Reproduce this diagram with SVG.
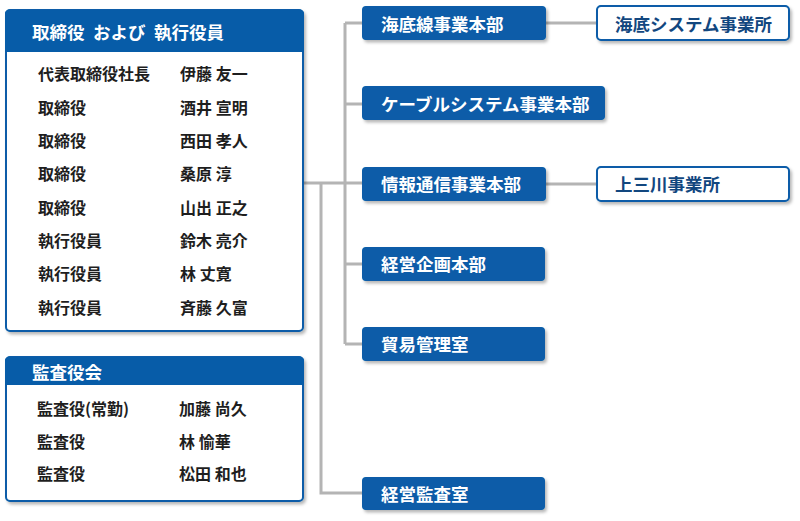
<svg xmlns="http://www.w3.org/2000/svg" width="800" height="521" viewBox="0 0 800 521">
<defs>
<filter id="sh" x="-10%" y="-10%" width="130%" height="140%">
<feDropShadow dx="2" dy="2.5" stdDeviation="1.8" flood-color="#000" flood-opacity="0.28"/>
</filter>
</defs>
<style>
.t{font-family:"Noto Sans CJK JP","Noto Sans",sans-serif;dominant-baseline:central}
.hd{fill:#fff;font-size:17.5px;font-weight:bold}
.bd{fill:#1e1e1e;font-size:16px;font-weight:bold}
.bx{fill:#fff;stroke:#075ca8;stroke-width:2}
.hdr{fill:#075ca8}
.dept{fill:#075ca8}
.dt{fill:#fff;font-size:17.5px;font-weight:bold}
.ot{fill:#12477f;font-size:17.5px;font-weight:bold}
.cn{stroke:#b4b4b4;stroke-width:3;fill:none}
</style>
<g id="connectors">
<path class="cn" d="M303 183H362M345 23V344M345 23H362M345 104H362M345 264H362M345 344H362M321 183V493H362M546 23H597M546 184H597"/>
</g>
<g id="board">
<g filter="url(#sh)">
<rect class="bx" x="6" y="10" width="297" height="321" rx="4"/>
</g>
<path class="hdr" d="M5 14a4 4 0 0 1 4-4h291a4 4 0 0 1 4 4v38H5z"/>
<text class="t hd" x="32" y="31.5">取締役</text>
<text class="t hd" x="93" y="31.5">および</text>
<text class="t hd" x="154" y="31.5">執行役員</text>
<g class="t bd">
<text x="38" y="73">代表取締役社長</text><text x="180" y="73">伊藤 友一</text>
<text x="38" y="106.5">取締役</text><text x="180" y="106.5">酒井 宣明</text>
<text x="38" y="140">取締役</text><text x="180" y="140">西田 孝人</text>
<text x="38" y="173">取締役</text><text x="180" y="173">桑原 淳</text>
<text x="38" y="207">取締役</text><text x="180" y="207">山出 正之</text>
<text x="38" y="240">執行役員</text><text x="180" y="240">鈴木 亮介</text>
<text x="38" y="273">執行役員</text><text x="180" y="273">林 丈寛</text>
<text x="38" y="306.5">執行役員</text><text x="180" y="306.5">斉藤 久富</text>
</g>
</g>
<g id="audit">
<g filter="url(#sh)">
<rect class="bx" x="6" y="357" width="297" height="144" rx="4"/>
</g>
<path class="hdr" d="M5 361a4 4 0 0 1 4-4h291a4 4 0 0 1 4 4v24H5z"/>
<text class="t hd" x="32" y="371">監査役会</text>
<g class="t bd">
<text x="37" y="408">監査役(常勤)</text><text x="179" y="408">加藤 尚久</text>
<text x="37" y="440.5">監査役</text><text x="179" y="440.5">林 愉華</text>
<text x="37" y="472.5">監査役</text><text x="179" y="472.5">松田 和也</text>
</g>
</g>
<g id="kaitei">
<rect class="dept" x="362" y="6" width="184" height="34" rx="4" filter="url(#sh)"/>
<text class="t dt" x="381" y="23">海底線事業本部</text>
</g>
<g id="cable">
<rect class="dept" x="362" y="86" width="243" height="34" rx="4" filter="url(#sh)"/>
<text class="t dt" x="381" y="103.5">ケーブルシステム事業本部</text>
</g>
<g id="joho">
<rect class="dept" x="362" y="167" width="184" height="34" rx="4" filter="url(#sh)"/>
<text class="t dt" x="381" y="183.5">情報通信事業本部</text>
</g>
<g id="kikaku">
<rect class="dept" x="362" y="247" width="183" height="34" rx="4" filter="url(#sh)"/>
<text class="t dt" x="381" y="263.5">経営企画本部</text>
</g>
<g id="boeki">
<rect class="dept" x="362" y="327" width="183" height="34" rx="4" filter="url(#sh)"/>
<text class="t dt" x="381" y="343.5">貿易管理室</text>
</g>
<g id="kansa">
<rect class="dept" x="362" y="477" width="183" height="33" rx="4" filter="url(#sh)"/>
<text class="t dt" x="381" y="493">経営監査室</text>
</g>
<g id="kaitei-sys">
<rect class="bx" x="597" y="6" width="192" height="34" rx="4" filter="url(#sh)"/>
<text class="t ot" x="615" y="23">海底システム事業所</text>
</g>
<g id="kaminokawa">
<rect class="bx" x="597" y="167" width="192" height="34" rx="4" filter="url(#sh)"/>
<text class="t ot" x="615" y="183.5">上三川事業所</text>
</g>
</svg>
